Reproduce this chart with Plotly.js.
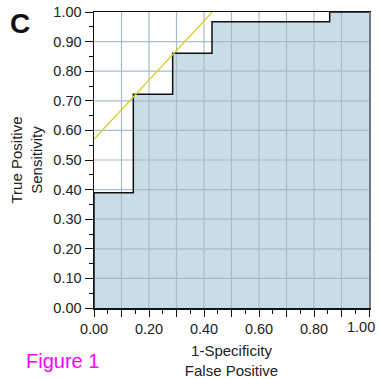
<!DOCTYPE html>
<html>
<head>
<meta charset="utf-8">
<script src="https://cdn.plot.ly/plotly-3.0.1.min.js"></script>
<style>html,body{margin:0;padding:0;background:#fff;}#chart{width:378px;height:379px;}</style>
</head>
<body>
<div id="chart"></div>
<script>
// ROC step curve (1-Specificity vs Sensitivity)
var fpr = [0, 0, 0.143, 0.286, 0.429, 0.857, 1];
var tpr = [0, 0.389, 0.722, 0.861, 0.967, 1, 1];
// tangent (yellow) line
var tanX = [0, 0.43];
var tanY = [0.57, 1.0];
// ticks
var gridVals = [0, 0.1, 0.2, 0.3, 0.4, 0.5, 0.6, 0.7, 0.8, 0.9, 1.0];
var xTickText = ['0.00', '', '0.20', '', '0.40', '', '0.60', '', '0.80', '', ''];
var xLastLabel = '1.00';
var yTickText = ['0.00', '0.10', '0.20', '0.30', '0.40', '0.50', '0.60', '0.70', '0.80', '0.90', '1.00'];
var minorVals = [0.05, 0.15, 0.25, 0.35, 0.45, 0.55, 0.65, 0.75, 0.85, 0.95];

var gx = [], gy = [];
gridVals.slice(1, -1).forEach(function (v) {
  gx.push(v, v, null); gy.push(0, 1, null);
  gx.push(0, 1, null); gy.push(v, v, null);
});

var font = 'Liberation Sans, Arial, Helvetica, sans-serif';
var tickFont = {family: font, size: 14.5, color: '#222'};
var traces = [
  {x: fpr, y: tpr, type: 'scatter', mode: 'lines', line: {shape: 'hv', width: 0},
   fill: 'tozeroy', fillcolor: '#c8dde7', hoverinfo: 'skip', showlegend: false},
  {x: gx, y: gy, type: 'scatter', mode: 'lines', line: {color: '#a7bcc9', width: 1.2},
   hoverinfo: 'skip', showlegend: false},
  {x: fpr, y: tpr, type: 'scatter', mode: 'lines', line: {shape: 'hv', color: '#111', width: 1.5},
   showlegend: false},
  {x: tanX, y: tanY, type: 'scatter', mode: 'lines', line: {color: '#d9cf2a', width: 1.3},
   showlegend: false}
];

var layout = {
  width: 378, height: 379,
  margin: {l: 94, r: 9, t: 12, b: 71},
  paper_bgcolor: '#fff', plot_bgcolor: '#fff',
  font: {family: font, size: 14, color: '#222'},
  showlegend: false,
  xaxis: {
    range: [0, 1], tickmode: 'array', tickvals: gridVals, ticktext: xTickText,
    tickfont: tickFont,
    showgrid: false, zeroline: false, showline: true, linecolor: '#111', linewidth: 1.5,
    mirror: true, ticks: 'outside', ticklen: 7, tickwidth: 1, tickcolor: '#111',
    minor: {tickmode: 'array', tickvals: minorVals, ticks: 'outside', ticklen: 4, tickcolor: '#111', showgrid: false},
    title: {text: '1-Specificity<br>False Positive', font: {size: 15, family: font, color: '#222'}, standoff: 12},
    fixedrange: true
  },
  yaxis: {
    range: [0, 1], tickmode: 'array', tickvals: gridVals, ticktext: yTickText,
    tickfont: tickFont,
    showgrid: false, zeroline: false, showline: true, linecolor: '#111', linewidth: 1.5,
    ticks: 'outside', ticklen: 8, tickwidth: 1, tickcolor: '#111',
    minor: {tickmode: 'array', tickvals: minorVals, ticks: 'outside', ticklen: 4, tickcolor: '#111', showgrid: false},
    title: {text: 'True Positive<br>Sensitivity', font: {size: 15, family: font, color: '#222'}, standoff: 7},
    fixedrange: true
  },
  yaxis2: {
    range: [0, 1], overlaying: 'y', side: 'right', showline: true, linecolor: '#777', linewidth: 2,
    showticklabels: false, ticks: '', showgrid: false, zeroline: false
  },
  annotations: [
    {text: xLastLabel, xref: 'x', yref: 'paper', x: gridVals[gridVals.length - 1], y: 0, showarrow: false,
     xanchor: 'right', yanchor: 'top', xshift: 8, yshift: -9, font: tickFont},
    {text: '<b>C</b>', xref: 'paper', yref: 'paper', x: -0.269, y: 0.962, showarrow: false,
     font: {size: 28, family: font, color: '#111'}, xanchor: 'center', yanchor: 'middle'},
    {text: 'Figure 1', xref: 'paper', yref: 'paper', x: -0.1145, y: -0.178, showarrow: false,
     font: {size: 20, family: font, color: '#ff00ff'}, xanchor: 'center', yanchor: 'middle'}
  ]
};
traces.push({x: [0], y: [0], yaxis: 'y2', type: 'scatter', mode: 'markers', marker: {opacity: 0}, hoverinfo: 'skip', showlegend: false});
Plotly.newPlot('chart', traces, layout, {displayModeBar: false, staticPlot: true});
</script>
</body>
</html>
